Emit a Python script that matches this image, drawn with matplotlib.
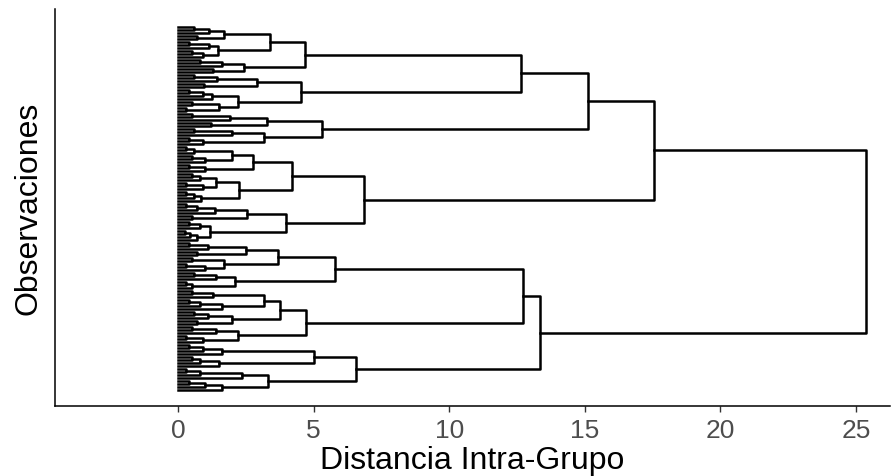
import matplotlib
matplotlib.use("Agg")
import matplotlib.pyplot as plt

plt.rcParams['font.family'] = ['Liberation Sans', 'DejaVu Sans']

# --- arbol: (altura, hijo_izq, hijo_der); listas = peine de hojas ---
# grupo A1a
G1 = (1.7, [0.6, 1.14], [0.7])
G2 = (1.47, [0.4, 1.14], [0.5, 0.9])
C1a = (3.39, G1, G2)
C1b = (2.43, [0.8, 1.6], [1.3])
C1 = (4.68, C1a, C1b)
C2a = (2.9, [0.6, 1.45], [0.95])
C2b = (2.2, [0.4, 0.9, 1.25], (1.5, [0.5], [0.3]))
C2 = (4.54, C2a, C2b)
A1a = (12.65, C1, C2)
# grupo A1b
H1 = (3.28, [0.5, 1.9], [1.2])
H2 = (3.15, [0.6, 2.0], [0.4, 0.9])
A1b = (5.31, H1, H2)
A1 = (15.12, A1a, A1b)
# grupo A2
D1a = (2.76, (2.0, [0.3, 0.6], [0.5, 1.0]), [0.4, 1.0])
D1b = (2.25, (1.4, [0.5, 0.8], [0.3, 0.9]), [0.3, 0.6, 0.85])
D1 = (4.2, D1a, D1b)
D2a = (2.55, [0.3, 0.7, 1.35], [0.5])
D2b = (1.18, [0.4, 0.8], [0.25, 0.45, 0.7])
D2 = (3.97, D2a, D2b)
A2 = (6.86, D1, D2)
A = (17.55, A1, A2)
# grupo B
E1a = (3.7, (2.5, [0.4, 1.1], [0.7]), (1.7, [0.5], [0.3, 1.0]))
E1b = (2.1, [0.6, 1.4], [0.3, 0.5])
E1 = (5.79, E1a, E1b)
E2a = (3.76, (3.17, [0.5, 1.3], [0.4, 0.8, 1.6]), (2.0, [0.6, 1.1], [0.7]))
E2b = (2.2, [0.5, 1.4], [0.3, 0.9])
E2 = (4.72, E2a, E2b)
B1 = (12.7, E1, E2)
F1 = (5.0, [0.4, 0.9, 1.6], [0.5, 0.8, 1.5])
F2 = (3.3, [0.3, 0.8, 2.35], [0.4, 1.0, 1.6])
B2 = (6.56, F1, F2)
B = (13.35, B1, B2)
ROOT = (25.35, A, B)

x_ticks = [0, 5, 10, 15, 20, 25]

fig = plt.figure(figsize=(8.93, 4.77), dpi=100)
ax = fig.add_axes([0.0616, 0.1468, 0.935, 0.832])

LW = 1.8
leaf = [0]


def next_leaf():
    i = leaf[0]
    leaf[0] += 1
    return i


def draw_comb(heights):
    y = next_leaf()
    h = 0
    for hh in heights:
        y2 = next_leaf()
        ax.plot([h, hh, hh, 0], [y, y, y2, y2], color='black', lw=LW)
        y = (y + y2) / 2
        h = hh
    return y, h


def draw_node(node):
    if isinstance(node, list):
        return draw_comb(node)
    h, left, right = node
    y1, h1 = draw_node(left)
    y2, h2 = draw_node(right)
    ax.plot([h1, h, h, h2], [y1, y1, y2, y2], color='black', lw=LW)
    return (y1 + y2) / 2, h


draw_node(ROOT)
n = leaf[0]

ax.set_xlim(-4.54, 26.25)
ax.set_ylim(n + 4.3, -6)
ax.set_xticks(x_ticks)
ax.set_yticks([])
for s in ['top', 'right']:
    ax.spines[s].set_visible(False)
for s in ['left', 'bottom']:
    ax.spines[s].set_linewidth(1.1)
ax.tick_params(axis='x', labelsize=19, labelcolor='#4D4D4D', color='#333333',
               length=4, width=1.0, pad=5)
ax.set_xlabel('Distancia Intra-Grupo', fontsize=23, labelpad=2)
ax.set_ylabel('Observaciones', fontsize=23, labelpad=8)

fig.savefig('out.png', dpi=100)
